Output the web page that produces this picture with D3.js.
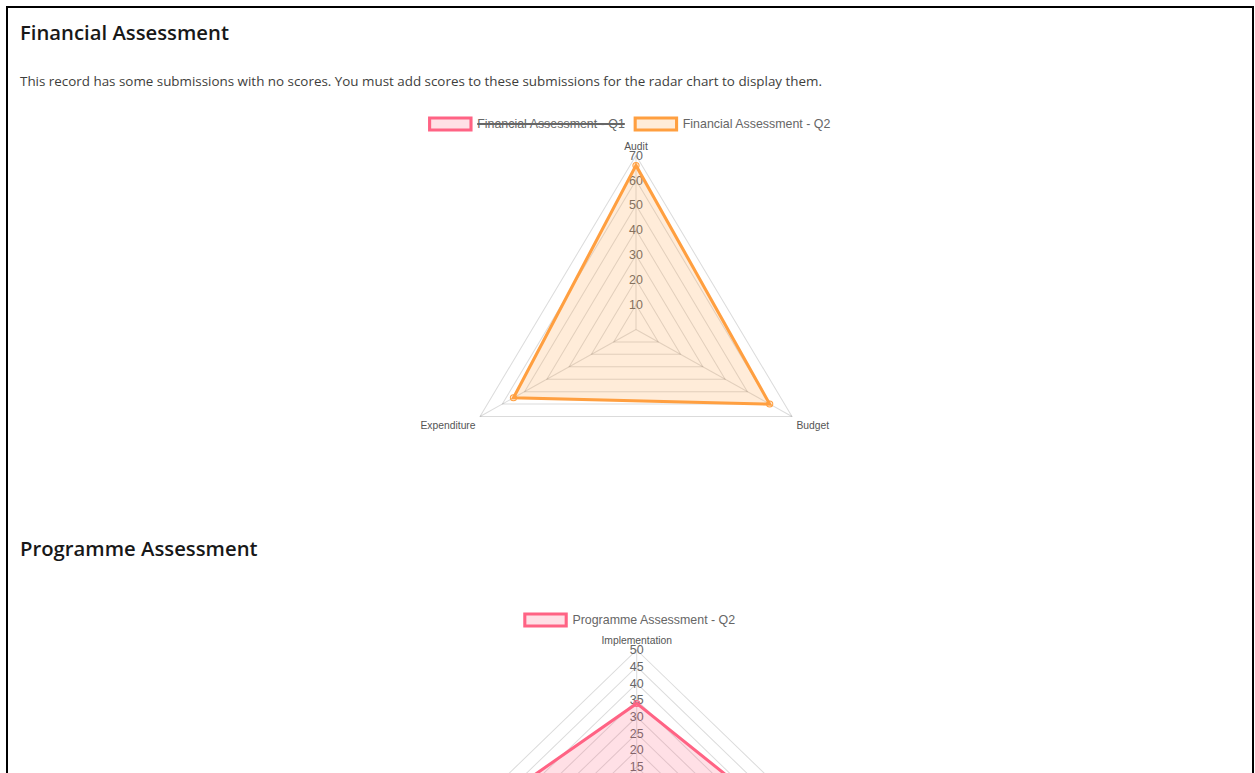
<!DOCTYPE html>
<html>
<head>
<meta charset="utf-8">
<script src="https://cdn.jsdelivr.net/npm/d3@7"></script>
<style>
  body { margin: 0; background: #fff; }
  svg { display: block; }
  .title { font-family: "Open Sans", sans-serif; font-size: 20.3px; font-weight: 600; fill: #181818; }
  .note { font-family: "Open Sans", sans-serif; font-size: 13.4px; fill: #3e3e3c; }
  .legend text { font-family: "Liberation Sans", Arial, sans-serif; font-size: 12px; fill: #666; }
  .tick-label { font-family: "Liberation Sans", Arial, sans-serif; font-size: 12px; fill: #666; }
  .point-label { font-family: "Liberation Sans", Arial, sans-serif; font-size: 10px; fill: #555; }
</style>
</head>
<body>
<script>
// financial assessment
const finAxes = ["Audit", "Budget", "Expenditure"]
const finLabels = ["Financial Assessment - Q1", "Financial Assessment - Q2"]
const finQ1 = [null, null, null]   // no scores -> hidden
const finQ2 = [66, 60, 55]
const finTicks = [10, 20, 30, 40, 50, 60, 70]

// programme assessment
const progAxes = ["Implementation", "Impact", "Sustainability", "Reach"]
const progLabels = ["Programme Assessment - Q2"]
const progQ2 = [34, 41, 30, 47]
const progTicks = [5, 10, 15, 20, 25, 30, 35, 40, 45, 50]

const noteText = "This record has some submissions with no scores. You must add scores to these submissions for the radar chart to display them."

const W = 1255, H = 773
const pink = "rgb(255, 99, 132)", orange = "rgb(255, 159, 64)"
const fade = col => col.replace("rgb", "rgba").replace(")", ", 0.2)")

const svg = d3.select("body").append("svg")
  .attr("width", W)
  .attr("height", H)

// page frame
svg.append("rect")
  .attr("x", 7).attr("y", 7)
  .attr("width", 1246).attr("height", 820)
  .attr("fill", "none")
  .attr("stroke", "#000")
  .attr("stroke-width", 2)

// the canvas is a touch wider than it is tall, so stretch x around the canvas centre
const canvasMid = 630, stretch = 1.035

const charts = [
  {title: "Financial Assessment", titleY: 40, note: noteText, noteY: 86,
   axes: finAxes, ticks: finTicks,
   series: [{label: finLabels[0], values: finQ1, color: pink, hidden: true},
            {label: finLabels[1], values: finQ2, color: orange, hidden: false}],
   legendY: 124, cx: 635.8, cy: 329.5, r: 174},
  {title: "Programme Assessment", titleY: 556,
   axes: progAxes, ticks: progTicks,
   series: [{label: progLabels[0], values: progQ2, color: pink, hidden: false}],
   legendY: 620, cx: 636.5, cy: 817, r: 167}
]

charts.forEach(drawRadar)

function drawRadar(c) {
  svg.append("text").attr("class", "title")
    .attr("x", 20).attr("y", c.titleY)
    .text(c.title)

  if (c.note) {
    svg.append("text").attr("class", "note")
      .attr("x", 20).attr("y", c.noteY)
      .text(c.note)
  }

  const wrap = svg.append("g")
    .attr("transform", `translate(${canvasMid},0) scale(${stretch},1) translate(${-canvasMid},0)`)

  const n = c.axes.length
  const max = d3.max(c.ticks)
  const rScale = d3.scaleLinear().domain([0, max]).range([0, c.r])
  const angle = i => -Math.PI / 2 + i * 2 * Math.PI / n
  const pt = (i, v) => [c.cx + Math.cos(angle(i)) * rScale(v), c.cy + Math.sin(angle(i)) * rScale(v)]

  const g = wrap.append("g")

  // grid polygons
  g.selectAll("polygon.grid")
    .data(c.ticks)
    .join("polygon")
    .attr("class", "grid")
    .attr("points", t => c.axes.map((a, i) => pt(i, t).join(",")).join(" "))
    .attr("fill", "none")
    .attr("stroke", "rgba(0,0,0,0.14)")
    .attr("stroke-width", 1)

  // angle lines
  g.selectAll("line.angle")
    .data(c.axes)
    .join("line")
    .attr("class", "angle")
    .attr("x1", c.cx).attr("y1", c.cy)
    .attr("x2", (a, i) => pt(i, max)[0])
    .attr("y2", (a, i) => pt(i, max)[1])
    .attr("stroke", "rgba(0,0,0,0.14)")

  // tick labels
  g.selectAll("text.tick-label")
    .data(c.ticks)
    .join("text")
    .attr("class", "tick-label")
    .attr("x", c.cx)
    .attr("y", t => c.cy - rScale(t))
    .attr("dy", "0.35em")
    .attr("text-anchor", "middle")
    .text(t => t)

  // point labels
  const extra = rScale.invert(5)
  g.selectAll("text.point-label")
    .data(c.axes)
    .join("text")
    .attr("class", "point-label")
    .attr("x", (a, i) => pt(i, max + extra)[0])
    .attr("y", (a, i) => {
      const p = pt(i, max + extra), s = Math.sin(angle(i))
      return s < 0 ? p[1] - 4 : p[1] + 6.5
    })
    .attr("dy", "0.35em")
    .attr("text-anchor", (a, i) => {
      const cs = Math.cos(angle(i))
      if (Math.abs(cs) < 0.01) return "middle"
      return cs > 0 ? "start" : "end"
    })
    .text(a => a)

  // datasets
  c.series.filter(s => !s.hidden).forEach(s => {
    const pts = s.values.map((v, i) => pt(i, v))
    g.append("polygon")
      .attr("points", pts.map(p => p.join(",")).join(" "))
      .attr("fill", fade(s.color))
      .attr("stroke", s.color)
      .attr("stroke-width", 3)
      .attr("stroke-linejoin", "miter")
    g.selectAll(null)
      .data(pts)
      .join("circle")
      .attr("cx", p => p[0]).attr("cy", p => p[1])
      .attr("r", 3)
      .attr("fill", fade(s.color))
      .attr("stroke", s.color)
      .attr("stroke-width", 1)
  })

  // legend
  const lg = wrap.append("g").attr("class", "legend")
  const items = c.series.map(s => {
    const it = lg.append("g")
    it.append("rect")
      .attr("width", 40).attr("height", 12)
      .attr("fill", fade(s.color))
      .attr("stroke", s.color)
      .attr("stroke-width", 3)
    const t = it.append("text")
      .attr("x", 46).attr("y", 6).attr("dy", "0.35em")
      .text(s.label)
    const tw = t.node().getComputedTextLength()
    if (s.hidden) {
      it.append("line")
        .attr("x1", 46).attr("x2", 46 + tw)
        .attr("y1", 6).attr("y2", 6)
        .attr("stroke", "#666").attr("stroke-width", 2)
    }
    return {it, w: 46 + tw}
  })
  const total = d3.sum(items, d => d.w) + 10 * (items.length - 1)
  let x0 = canvasMid - total / 2
  items.forEach(d => {
    d.it.attr("transform", `translate(${x0},${c.legendY - 6})`)
    x0 += d.w + 10
  })
}
</script>
</body>
</html>
